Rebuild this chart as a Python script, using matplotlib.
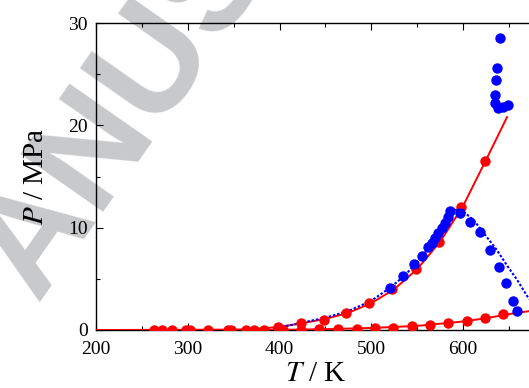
import matplotlib
matplotlib.use("Agg")
import matplotlib.pyplot as plt
import matplotlib.ticker as mticker

# lower red branch (points + fitted curve)
T_red_low = [263, 272, 283, 298, 302, 322, 344, 347, 363, 372, 383, 404, 423, 443,
             464, 484, 504, 524, 544, 564, 584, 604, 624, 644]
P_red_low = [0, 0, 0, 0, 0, 0, 0, 0, 0, 0, 0, 0.01, 0.03, 0.05,
             0.08, 0.12, 0.17, 0.22, 0.4, 0.49, 0.65, 0.88, 1.14, 1.53]
T_red_low_fit = [200, 400, 450, 500, 550, 600, 625, 650, 680]
P_red_low_fit = [0, 0.02, 0.08, 0.2, 0.4, 0.83, 1.15, 1.55, 1.95]

# upper red branch
T_red_up = [398, 423, 448, 473, 498, 523, 549, 574, 598, 624]
P_red_up = [0.32, 0.65, 1.0, 1.63, 2.6, 4.0, 6.0, 8.6, 12.05, 16.5]
T_red_up_fit = [200, 350, 375, 400, 425, 450, 475, 500, 525, 550, 575, 600, 625, 648]
P_red_up_fit = [0, 0.03, 0.12, 0.3, 0.67, 1.08, 1.68, 2.62, 3.98, 5.95, 8.62, 12.1, 16.6, 20.8]

# blue simulation points
T_blue = [520, 535, 547, 555, 562, 566, 570, 573, 577, 580, 584, 586, 597, 608,
          618, 629, 639, 647, 655, 659]
P_blue = [4.07, 5.28, 6.45, 7.27, 8.08, 8.5, 8.96, 9.45, 9.94, 10.5, 11.08, 11.66,
          11.47, 10.6, 9.55, 7.82, 6.19, 4.63, 2.83, 1.86]
T_blue_crit = [640, 637, 636, 635, 635, 638.5, 644, 649]
P_blue_crit = [28.5, 25.6, 24.4, 23.0, 22.2, 21.7, 21.8, 22.0]

# blue dotted curve
T_blue_fit = [393, 400, 425, 450, 475, 500, 520, 535, 550, 565, 575, 585, 592, 600,
              612, 625, 637, 648, 659, 670, 680]
P_blue_fit = [0.15, 0.25, 0.72, 1.2, 1.85, 2.85, 4.1, 5.2, 6.6, 8.3, 9.7, 11.2, 11.75,
              11.6, 10.7, 9.2, 7.8, 6.3, 4.9, 3.3, 2.2]

plt.rcParams["font.family"] = ["Liberation Serif", "DejaVu Serif"]
plt.rcParams["mathtext.fontset"] = "stix"

W, H = 529, 388
fig = plt.figure(figsize=(W / 100, H / 100), dpi=100)

# watermark behind the plot
fig.text(0.07, 0.22, "ANUSCRIPT", color="#c8c9cb", fontsize=105,
         family="Liberation Sans", weight="bold", rotation=55,
         rotation_mode="anchor", ha="left", va="baseline", zorder=-1)

px_per_K = 0.9175
x0, x1 = 200, 680
left, bottom = 96 / W, (H - 330) / H
ax = fig.add_axes([left, bottom, (x1 - x0) * px_per_K / W, (330 - 23) / H])
ax.patch.set_alpha(0)

red = "#ff0000"
blue = "#0000ff"
ms = 7.5

ax.plot(T_red_low_fit, P_red_low_fit, color=red, lw=1.4, zorder=3)
ax.plot(T_red_up_fit, P_red_up_fit, color=red, lw=1.4, zorder=3)
ax.plot(T_blue_fit, P_blue_fit, color=blue, lw=1.5, ls=(0, (1.2, 0.9)), zorder=3)
ax.plot(T_red_low, P_red_low, "o", color=red, ms=ms, mew=0, zorder=4)
ax.plot(T_red_up, P_red_up, "o", color=red, ms=ms, mew=0, zorder=4)
ax.plot(T_blue, P_blue, "o", color=blue, ms=ms, mew=0, zorder=5)
ax.plot(T_blue_crit, P_blue_crit, "o", color=blue, ms=ms, mew=0, zorder=5)

ax.set_xlim(x0, x1)
ax.set_ylim(0, 30)
ax.xaxis.set_major_locator(mticker.MultipleLocator(100))
ax.xaxis.set_minor_locator(mticker.MultipleLocator(50))
ax.yaxis.set_major_locator(mticker.MultipleLocator(10))
ax.yaxis.set_minor_locator(mticker.MultipleLocator(5))
ax.tick_params(which="both", direction="in", top=True, right=True, labelsize=14,
               width=0.8, color="black")
ax.tick_params(which="major", length=5)
ax.tick_params(axis="x", which="major", pad=8)
ax.tick_params(axis="y", which="major", pad=6)
ax.tick_params(which="minor", length=3)
for s in ax.spines.values():
    s.set_linewidth(1.0)

ax.set_xlabel("$T$ / K", fontsize=21, labelpad=2)
ax.set_ylabel("$P$ / MPa", fontsize=21, labelpad=14)

fig.savefig("out.png", dpi=100)
